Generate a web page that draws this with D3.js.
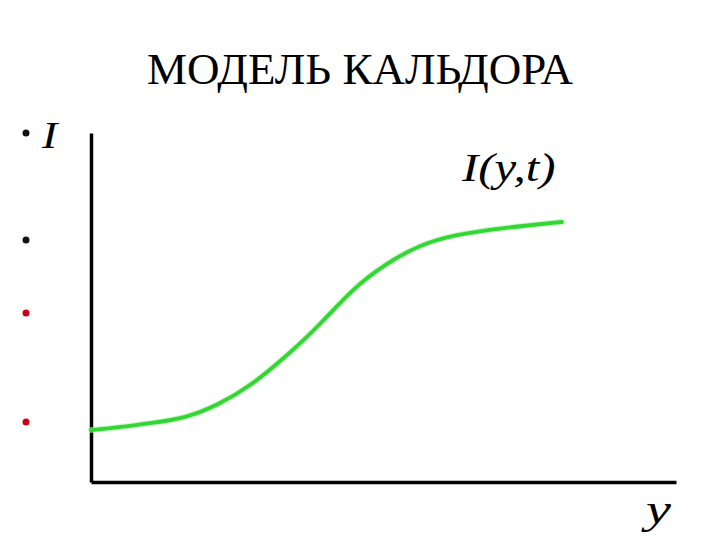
<!DOCTYPE html>
<html>
<head>
<meta charset="utf-8">
<script src="https://cdn.jsdelivr.net/npm/d3@7"></script>
<style>
  body { margin: 0; background: #fff; }
  svg { display: block; }
</style>
</head>
<body>
<div id="chart"></div>
<script>
// Curve of investment I against income y (0..100 units)
const incomeY = [0, 4.6, 10.4, 16.1, 21.7, 27.5, 33.2, 38.8, 44.8, 50.6, 56.2, 61.9, 70.4, 80.5];
const investI = [14.9, 15.6, 16.9, 18.3, 22.0, 27.8, 35.8, 44.4, 55.6, 62.8, 67.9, 70.8, 72.8, 74.5];

const titleText = 'МОДЕЛЬ КАЛЬДОРА';
const curveLabel = 'I(y,t)';
const yAxisLabel = 'I';
const xAxisLabel = 'y';

// slide bullets on the left, black then red
const bulletY = [133, 240, 313, 422];
const bulletColors = ['#111', '#111', '#c8001a', '#c8001a'];

const width = 720, height = 540;
const serif = "'Liberation Serif'";

const svg = d3.select('#chart').append('svg')
    .attr('width', width)
    .attr('height', height);

const x = d3.scaleLinear().domain([0, 100]).range([91, 676]);
const y = d3.scaleLinear().domain([0, 100]).range([482, 133]);

// title
svg.append('text')
    .attr('x', 360)
    .attr('y', 84)
    .attr('text-anchor', 'middle')
    .style('font-family', serif)
    .style('font-size', '45px')
    .attr('fill', '#000')
    .text(titleText);

// bullets
svg.selectAll('circle.bullet')
    .data(bulletY)
    .enter()
    .append('circle')
    .attr('class', 'bullet')
    .attr('cx', 26)
    .attr('cy', d => d)
    .attr('r', 3.5)
    .attr('fill', (d, i) => bulletColors[i]);

// axes, no ticks, just the lines
const xAxis = svg.append('g')
    .attr('transform', `translate(0,${y(0)})`)
    .call(d3.axisBottom(x).ticks(0).tickSizeOuter(0));
const yAxis = svg.append('g')
    .attr('transform', `translate(${x(0)},0)`)
    .call(d3.axisLeft(y).ticks(0).tickSizeOuter(0));
[xAxis, yAxis].forEach(g => {
  g.select('.domain').attr('stroke', '#000').attr('stroke-width', 3.5);
});

// the green curve
const line = d3.line()
    .x((d, i) => x(incomeY[i]))
    .y(d => y(d))
    .curve(d3.curveBasis);

svg.append('path')
    .datum(investI)
    .attr('d', line)
    .attr('fill', 'none')
    .attr('stroke', '#a6f2a6')
    .attr('stroke-width', 6)
    .attr('stroke-linecap', 'round')
    .attr('opacity', 0.6);

svg.append('path')
    .datum(investI)
    .attr('d', line)
    .attr('fill', 'none')
    .attr('stroke', '#33d633')
    .attr('stroke-width', 3.8)
    .attr('stroke-linecap', 'round');

// labels
const italic = g => g
    .style('font-family', serif)
    .style('font-style', 'italic')
    .attr('fill', '#000');

svg.append('text')
    .attr('transform', 'translate(42,148) scale(1.2,1)')
    .style('font-size', '38px')
    .call(italic)
    .text(yAxisLabel);

svg.append('text')
    .attr('transform', 'translate(462,181) scale(1.22,1)')
    .style('font-size', '40px')
    .call(italic)
    .text(curveLabel);

svg.append('text')
    .attr('transform', 'translate(646,523) scale(1.4,1)')
    .style('font-size', '40px')
    .call(italic)
    .text(xAxisLabel);
</script>
</body>
</html>
